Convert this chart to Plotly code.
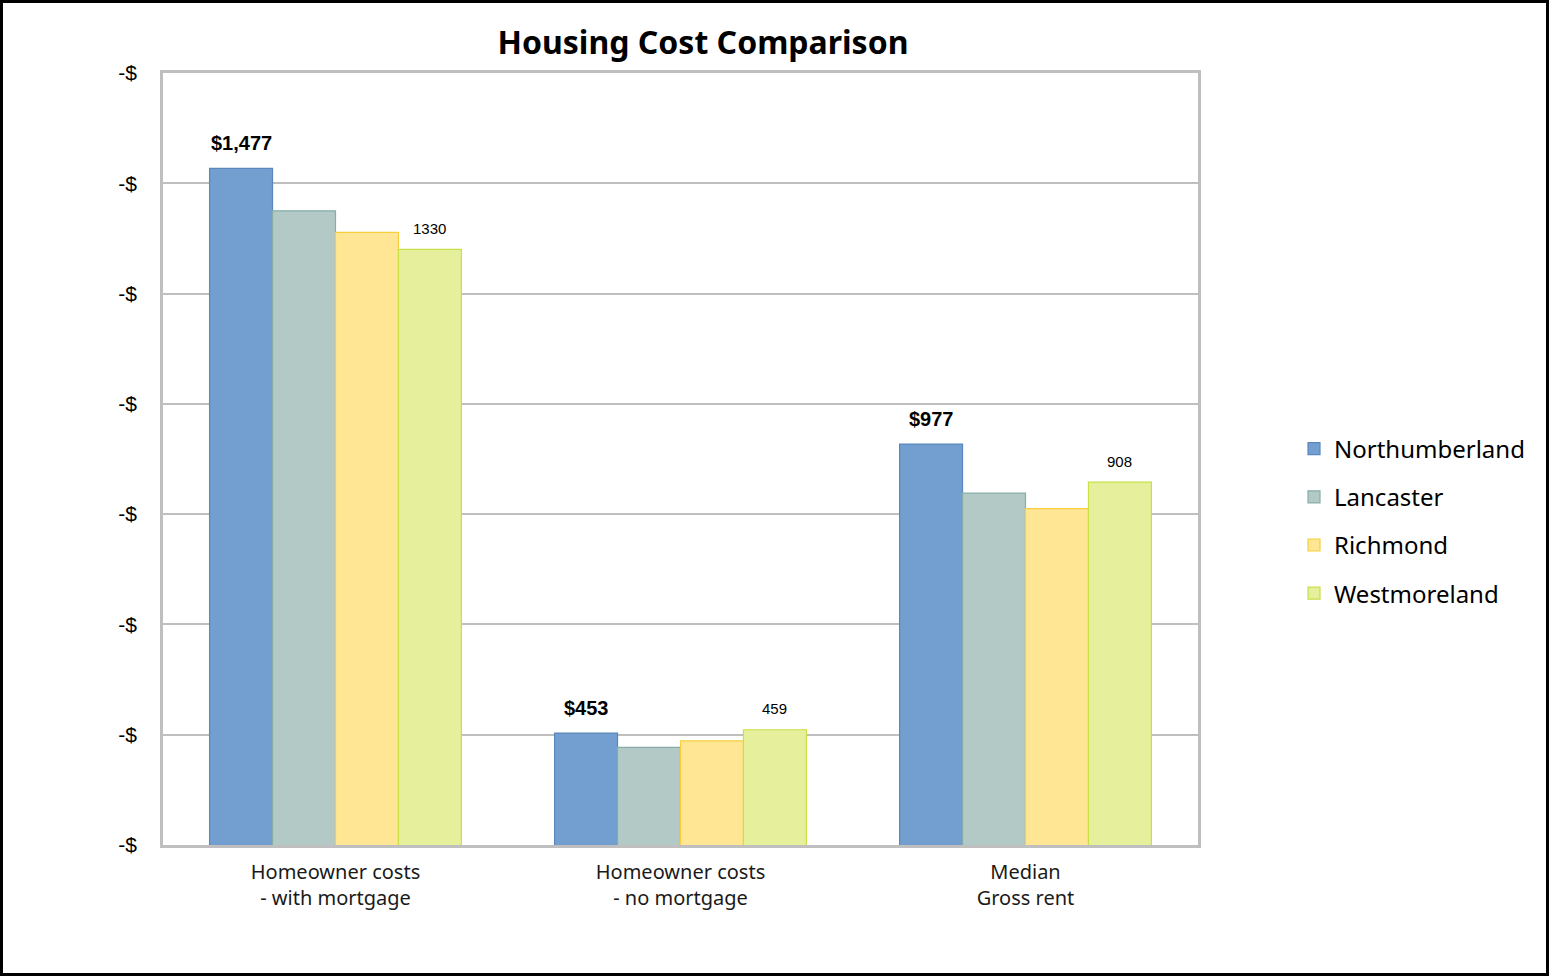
import plotly.graph_objects as go

categories = ["Homeowner costs<br>- with mortgage", "Homeowner costs<br>- no mortgage", "Median<br>Gross rent"]
series_names = ["Northumberland", "Lancaster", "Richmond", "Westmoreland"]
northumberland = [1477, 453, 977]
lancaster = [1400, 427, 888]
richmond = [1361, 439, 860]
westmoreland = [1330, 459, 908]
y_tick_values = [250, 450, 650, 850, 1050, 1250, 1450, 1650]
y_tick_labels = ["-$"] * 8

series_values = [northumberland, lancaster, richmond, westmoreland]
fills = ["#729FCF", "#B3C9C5", "#FFE694", "#E6F09C"]
edges = ["#5A88BE", "#86ADA7", "#F7CF3C", "#C8E045"]

W, H = 1549, 976
ML, MR, MT, MB = 163, 351, 73, 131
BARGAP = 0.27

fig = go.Figure()
for i, (name, vals) in enumerate(zip(series_names, series_values)):
    fig.add_trace(go.Bar(
        name=name, x=list(range(len(categories))), y=vals,
        marker=dict(color=fills[i], line=dict(color=edges[i], width=1.2)),
        legendgroup=name,
    ))

# data labels
bw = (1 - BARGAP) / len(series_names)
annotations = []
for ci, v in enumerate(northumberland):
    annotations.append(dict(x=ci + (0 - 1.5) * bw, y=v, text=f"<b>${v:,}</b>", showarrow=False,
                            yshift=25, font=dict(family="Liberation Sans", size=20, color="#000000")))
for ci, v in enumerate(westmoreland):
    annotations.append(dict(x=ci + (3 - 1.5) * bw, y=v, text=f"{v}", showarrow=False,
                            yshift=21, font=dict(family="Liberation Sans", size=15, color="#000000")))

pw = W - ML - MR
ph = H - MT - MB
fig.update_layout(
    width=W, height=H,
    margin=dict(l=ML, r=MR, t=MT, b=MB, pad=0),
    paper_bgcolor="white", plot_bgcolor="white",
    barmode="group", bargap=BARGAP, bargroupgap=0,
    title=dict(text="<b>Housing Cost Comparison</b>", x=(703 - ML) / pw, xref="paper", xanchor="center",
               y=1 - 43 / H, yanchor="middle",
               font=dict(family="Noto Sans", size=32, color="#000000")),
    legend=dict(x=(1294 - ML) / pw, y=1 - (521 - MT) / ph, xanchor="left", yanchor="middle",
                font=dict(family="Noto Sans", size=24, color="#000000"),
                tracegroupgap=14, itemwidth=30, bgcolor="rgba(0,0,0,0)"),
    annotations=annotations,
    showlegend=True,
)
fig.update_xaxes(
    tickmode="array", tickvals=list(range(len(categories))), ticktext=categories,
    range=[-0.5, len(categories) - 0.5],
    showline=True, linecolor="#BFBFBF", linewidth=2.5, mirror=True,
    showgrid=False, ticks="", ticklabelstandoff=7,
    tickfont=dict(family="Noto Sans", size=20, color="#1a1a1a"),
)
fig.update_yaxes(
    range=[250, 1650], tickmode="array", tickvals=y_tick_values, ticktext=y_tick_labels,
    showline=True, linecolor="#BFBFBF", linewidth=2.5, mirror=True,
    showgrid=True, gridcolor="#BFBFBF", gridwidth=2, zeroline=False,
    ticks="", ticklabelstandoff=19,
    tickfont=dict(family="Liberation Sans", size=21, color="#000000"),
)
# outer black frame
fig.add_shape(type="rect", xref="paper", yref="paper",
              x0=(1.5 - ML) / pw, x1=(W - 1.5 - ML) / pw,
              y0=-(MB - 1.5) / ph, y1=1 + (MT - 1.5) / ph,
              line=dict(color="#000000", width=3), fillcolor="rgba(0,0,0,0)", layer="above")

fig.write_html("out.html", config={"displayModeBar": False},
               post_script="document.body.style.margin='0';document.body.style.overflow='hidden';")
